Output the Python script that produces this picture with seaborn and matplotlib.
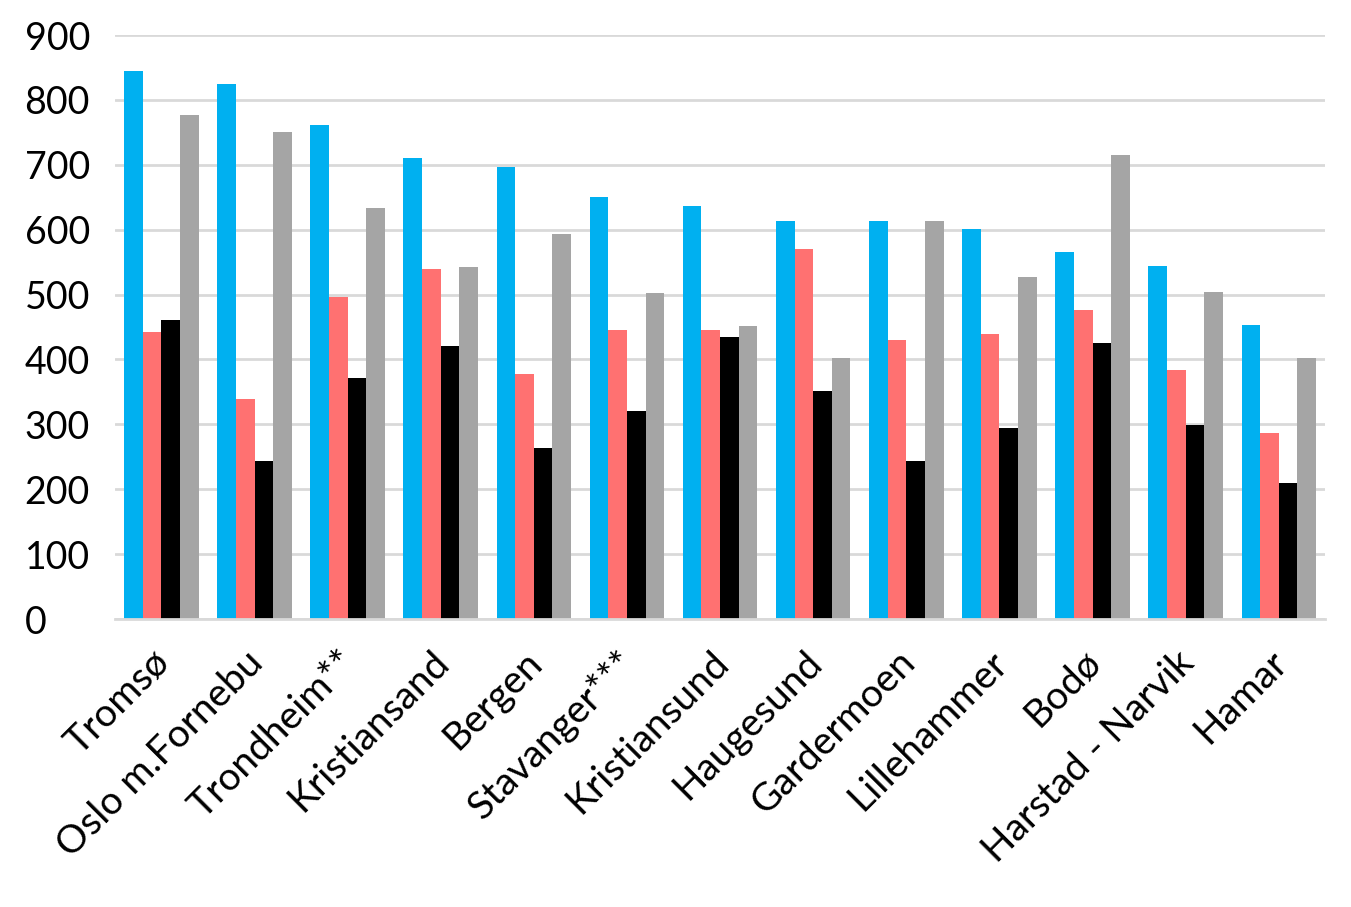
import pandas as pd
import matplotlib.pyplot as plt
import matplotlib.transforms as mtransforms
import seaborn as sns

cities = ['Tromsø', 'Oslo m.Fornebu', 'Trondheim**', 'Kristiansand', 'Bergen',
          'Stavanger***', 'Kristiansund', 'Haugesund', 'Gardermoen',
          'Lillehammer', 'Bodø', 'Harstad - Narvik', 'Hamar']
s1 = [844, 824, 761, 710, 697, 651, 636, 613, 613, 601, 565, 544, 453]
s2 = [443, 339, 496, 540, 377, 446, 446, 571, 430, 440, 476, 383, 286]
s3 = [461, 243, 372, 420, 263, 321, 434, 352, 243, 294, 426, 299, 210]
s4 = [776, 750, 634, 543, 593, 502, 451, 403, 613, 527, 715, 504, 403]
series = ['s1', 's2', 's3', 's4']
colors = ['#00B0F0', '#FF7171', '#000000', '#A5A5A5']

df = pd.DataFrame({'city': cities, 's1': s1, 's2': s2, 's3': s3, 's4': s4})
long = df.melt(id_vars='city', var_name='serie', value_name='value')

sns.set_style('white')
plt.rcParams['font.family'] = ['Lato', 'DejaVu Sans']

fig = plt.figure(figsize=(13.51, 9.07), dpi=100)
ax = fig.add_axes([0.085, 0.3175, 0.896, 0.6439])

sns.barplot(data=long, x='city', y='value', hue='serie', hue_order=series,
            palette=colors, width=0.8, saturation=1, linewidth=0,
            ax=ax, legend=False)

ax.set_ylim(0, 900)
ax.set_xlim(-0.5, len(cities) - 0.5)
ax.set_yticks(range(0, 901, 100))
ax.yaxis.grid(True, color='#D9D9D9', linewidth=2)
ax.set_axisbelow(True)
for s in ['top', 'right', 'left']:
    ax.spines[s].set_visible(False)
ax.spines['bottom'].set_color('#D9D9D9')
ax.spines['bottom'].set_linewidth(2)
ax.set_xlabel('')
ax.set_ylabel('')
ax.tick_params(axis='both', length=0, labelcolor='black')
ax.tick_params(axis='y', labelsize=27, pad=65)
for lab in ax.get_yticklabels():
    lab.set_horizontalalignment('left')
ax.set_xticks(range(len(cities)))
ax.set_xticklabels(cities, rotation=45, ha='right', va='top',
                   rotation_mode='anchor', fontsize=28)
ax.tick_params(axis='x', pad=18)

# nudge the slanted labels a little to the left
shift = mtransforms.ScaledTranslation(-10 / 100, 0, fig.dpi_scale_trans)
for lab in ax.get_xticklabels():
    lab.set_transform(lab.get_transform() + shift)

fig.savefig('out.png', dpi=100, facecolor='white')
